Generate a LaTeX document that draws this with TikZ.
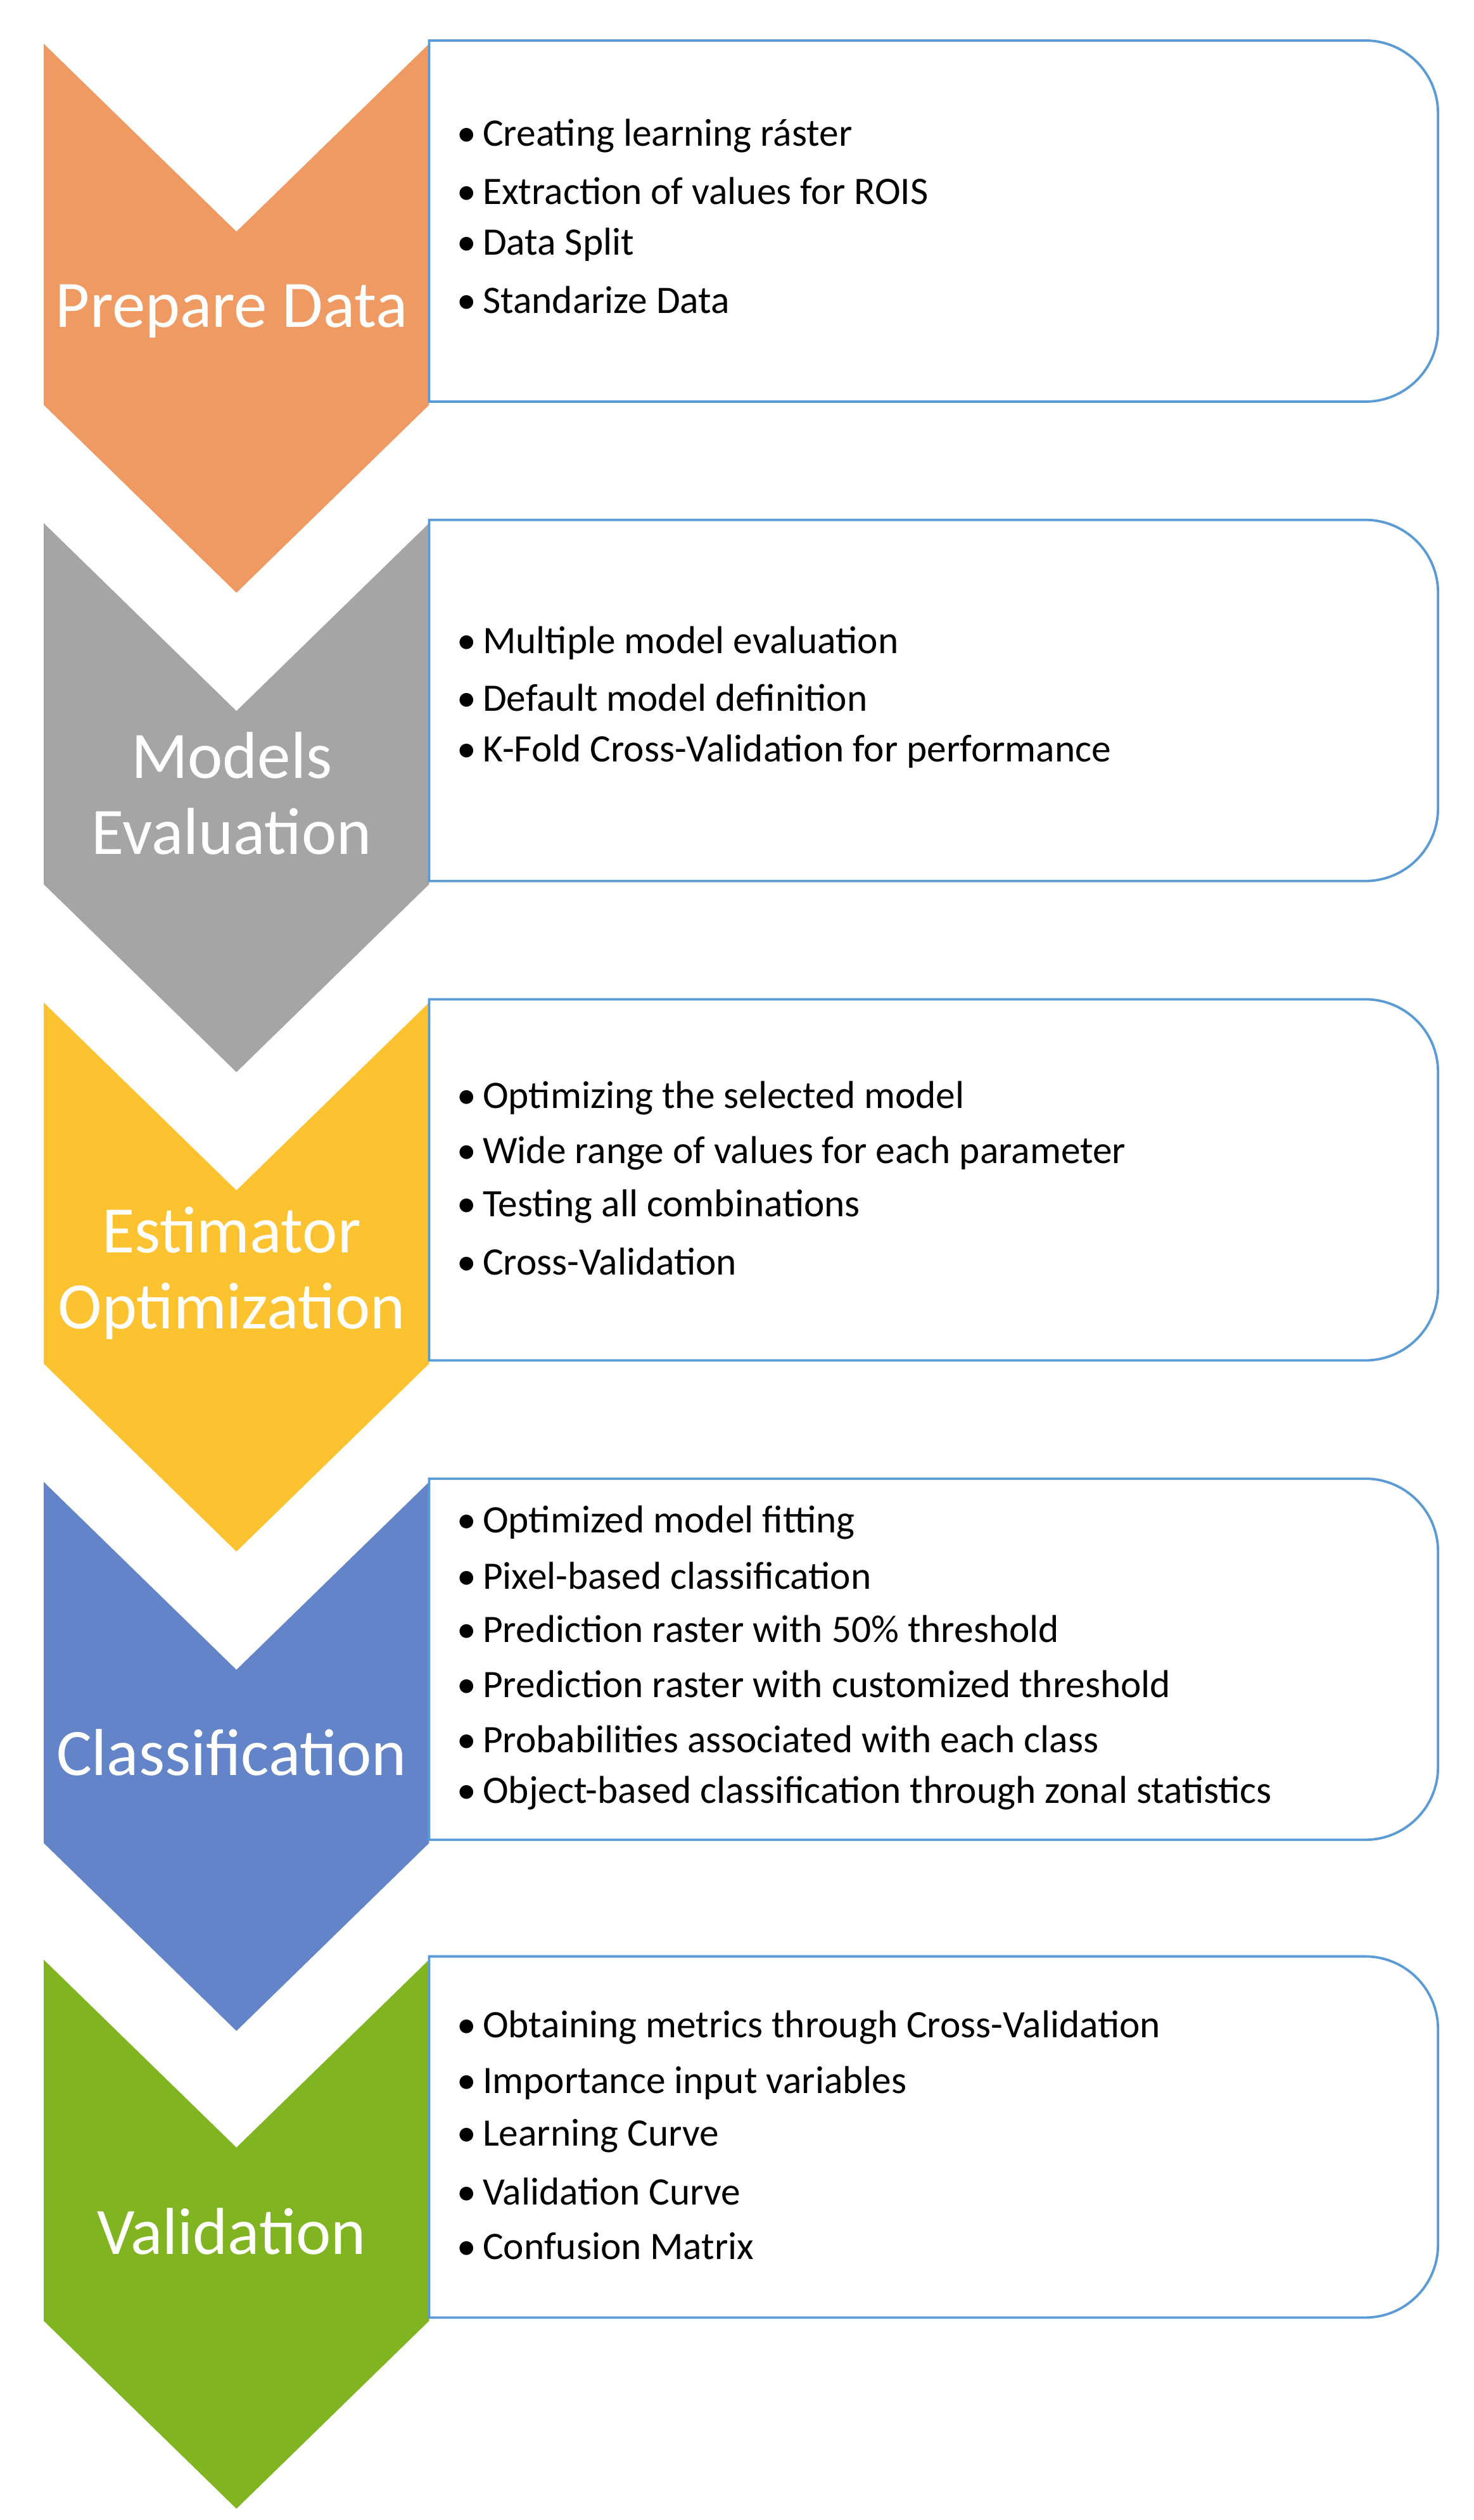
\documentclass[tikz,border=0pt]{standalone}
\usepackage{fontspec}
\setmainfont{Carlito}
\begin{document}
\begin{tikzpicture}[x=1pt,y=-1pt,
  item/.style={anchor=west,font=\fontsize{24}{28}\selectfont,inner sep=0pt},
  lab/.style={text=white,font=\fontsize{41}{47}\selectfont,align=center},
  box/.style={draw=boxblue,line width=1.5pt,fill=white}]
\definecolor{boxblue}{HTML}{5B9BD5}
\definecolor{c1}{HTML}{EF9A62}
\definecolor{c2}{HTML}{A5A5A5}
\definecolor{c3}{HTML}{FDC22F}
\definecolor{c4}{HTML}{6384C8}
\definecolor{c5}{HTML}{80B521}
\useasboundingbox (0,0) rectangle (910,1556);
\foreach \t/\c in {27/c1,323/c2,619/c3,915/c4,1210/c5}{
  \fill[\c] (27,\t) -- (146,\t+116) -- (265,\t) -- (265,\t+223) -- (146,\t+339) -- (27,\t+223) -- cycle;
  \draw[box] (265,\t-2) -- (843,\t-2) arc[start angle=-90,end angle=0,radius=45] -- (888,\t+176) arc[start angle=0,end angle=90,radius=45] -- (265,\t+221) -- cycle;
}
\node[lab] (l1) at (143,192) {Prepare Data};
\node[lab] (l2) at (143,490) {Models\\Evaluation};
\node[lab] (l3) at (143,786) {Estimator\\Optimization};
\node[lab] (l4) at (143,1082) {Classification};
\node[lab] (l5) at (143,1378) {Validation};
\foreach \y/\s in {84/Creating learning ráster,118/Extraction of values for ROIS,151/Data Split,185/Standarize Data,
  397/Multiple model evaluation,431/Default model definition,464/K-Fold Cross-Validation for performance,
  678/Optimizing the selected model,712/Wide range of values for each parameter,745/Testing all combinations,779/Cross-Validation,
  940/Optimized model fitting,973/Pixel-based classification,1006/Prediction raster with 50\% threshold,1040/Prediction raster with customized threshold,1074/Probabilities associated with each class,1107/Object-based classification through zonal statistics,
  1252/Obtaining metrics through Cross-Validation,1286/Importance input variables,1319/Learning Curve,1353/Validation Curve,1387/Confusion Matrix}
  \node[item] at (282,\y) {\textbullet\,\s};
\end{tikzpicture}
\end{document}
